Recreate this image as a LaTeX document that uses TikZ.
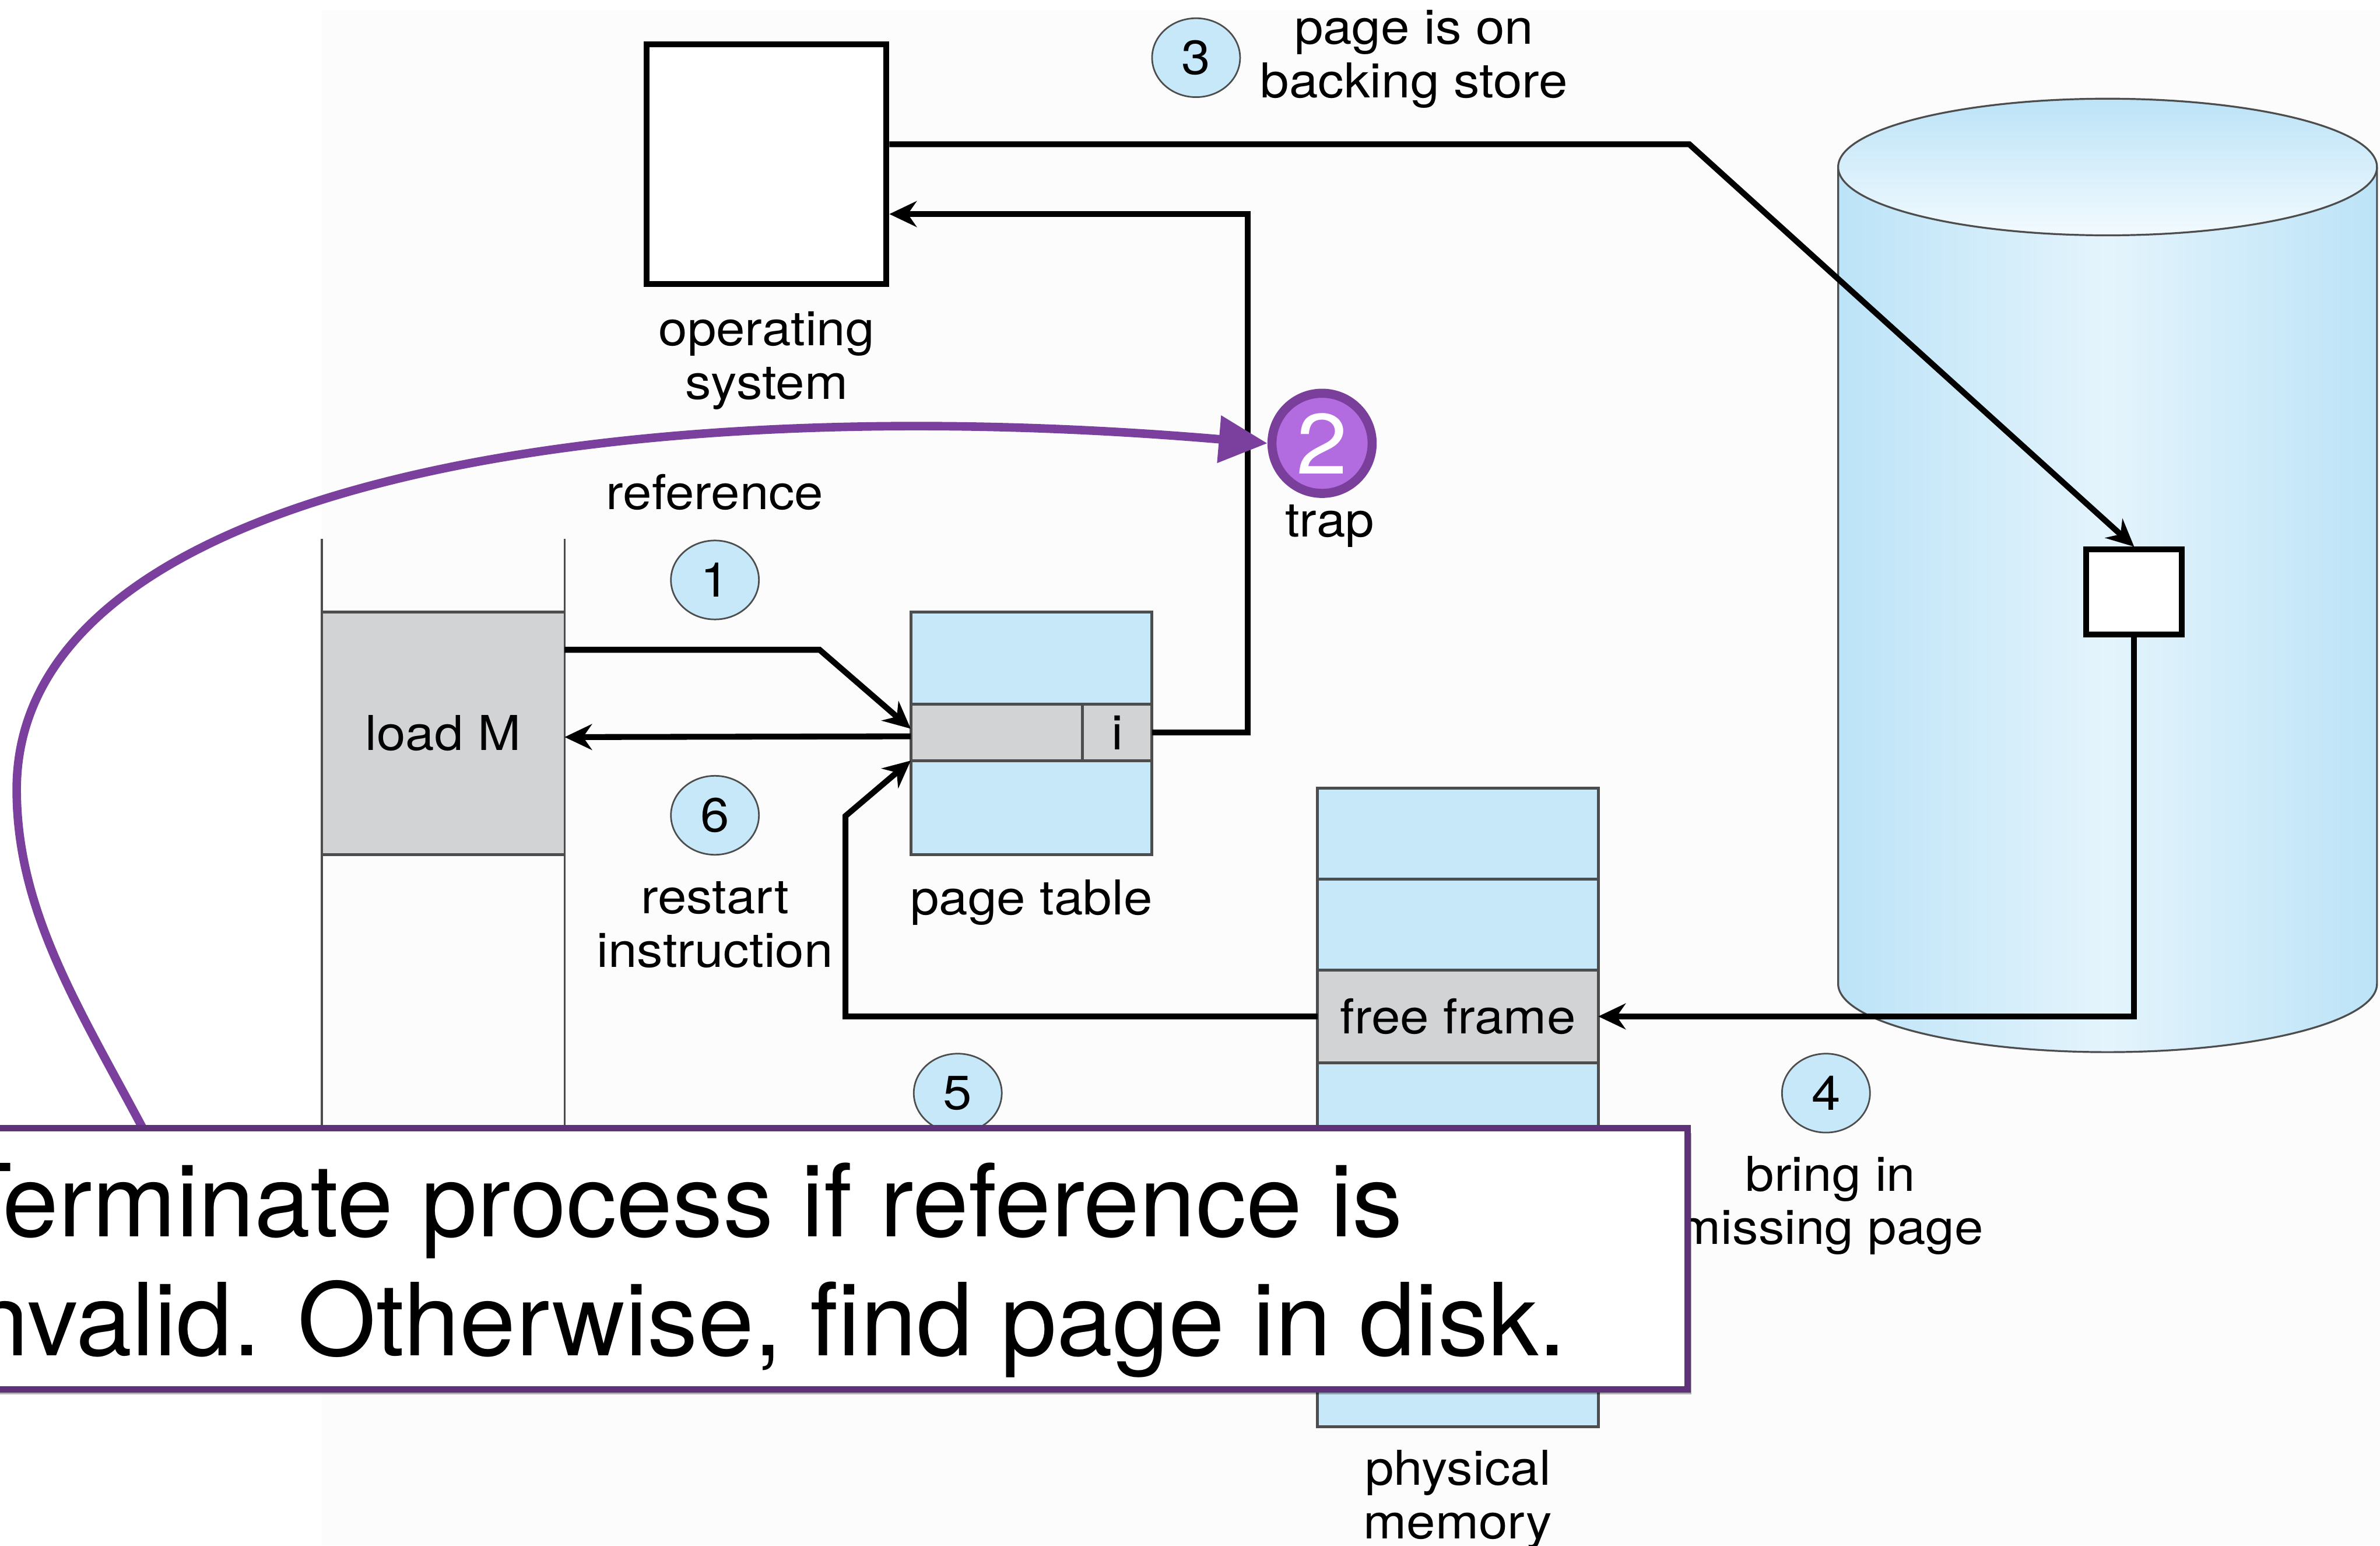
\documentclass[tikz,border=0pt]{standalone}
\usepackage{fontspec}
\setmainfont{TeX Gyre Heros}[FakeStretch=1.08]
\newfontfamily\notefont{TeX Gyre Heros}
\usetikzlibrary{shapes,arrows.meta,positioning,calc,shadows}

\definecolor{pageblue}{HTML}{C6E8F8}
\definecolor{cellgray}{HTML}{D1D3D4}
\definecolor{edgegray}{HTML}{4D4D4D}
\definecolor{figbg}{HTML}{FCFCFC}
\definecolor{diskblue}{HTML}{BCE3F7}
\definecolor{disklight}{HTML}{E4F4FC}
\definecolor{disktop}{HTML}{F2FAFE}
\definecolor{trappurple}{HTML}{B36BE0}
\definecolor{trapedge}{HTML}{7A3F9B}
\definecolor{hintpurple}{HTML}{7B3F9E}
\definecolor{boxpurple}{HTML}{5E3278}

\begin{document}
\begin{tikzpicture}[
    x=0.02cm, y=-0.02cm,
    figtext/.style={font=\fontsize{18}{20}\selectfont, align=center, inner sep=0pt},
    stepnum/.style={draw=edgegray, line width=0.6pt, fill=pageblue, ellipse, minimum width=1.16cm, minimum height=1.04cm, inner sep=0pt, font=\fontsize{18}{20}\selectfont},
    cell/.style={draw=edgegray, line width=1.1pt, inner sep=0pt, outer sep=0pt, font=\fontsize{18}{20}\selectfont},
    osframe/.style={draw=black, line width=2.2pt, fill=white, inner sep=0pt},
    arrow/.style={-{Stealth[length=3.6mm,width=3.4mm]}, line width=2.2pt},
    callline/.style={-{Triangle[length=6.4mm,width=6mm]}, line width=3.2pt, draw=hintpurple},
    notebox/.style={draw=boxpurple, line width=2.4pt, fill=white, minimum width=23.44cm, minimum height=3.44cm,
        drop shadow={shadow xshift=0.05cm, shadow yshift=-0.07cm, fill=black, opacity=0.3}}
]

% page background
\fill[white] (0,0) rectangle (1568,1018);
\fill[figbg] (212,7) rectangle (1568,1018);
\useasboundingbox (0,0) rectangle (1568,1018);

% backing store
\shade[left color=diskblue, right color=diskblue, middle color=disklight]
    (1211,110) -- (1211,648) arc[start angle=180, end angle=0, x radius=177.5, y radius=45] -- (1566,110) -- cycle;
\draw[edgegray, line width=0.7pt]
    (1211,110) -- (1211,648) arc[start angle=180, end angle=0, x radius=177.5, y radius=45] -- (1566,110);
\shade[top color=diskblue, bottom color=disktop, draw=edgegray, line width=0.7pt]
    (1388.5,110) ellipse [x radius=177.5, y radius=45];
\node[osframe, minimum width=1.26cm, minimum height=1.12cm] (slot) at (1406,390) {};

% operating system
\node[osframe, minimum width=3.16cm, minimum height=3.16cm] (os) at (505,108) {};
\node[figtext, below=0.32cm of os] (oslbl) {operating\\system};

% process
\node[cell, draw=none, fill=cellgray, minimum width=3.2cm, minimum height=3.2cm] (loadm) at (292,483) {load M};
\draw[edgegray, line width=1.1pt] (loadm.north west) -- (loadm.north east) (loadm.south west) -- (loadm.south east);
\draw[edgegray, line width=0.8pt] (loadm.north west) ++(0,-48) -- ++(0,445);
\draw[edgegray, line width=0.8pt] (loadm.north east) ++(0,-48) -- ++(0,445);

% page table
\node[cell, fill=pageblue, minimum width=3.18cm, minimum height=1.22cm] (pttop) at (679.5,433.5) {};
\node[cell, fill=cellgray, minimum width=2.26cm, minimum height=0.74cm, below right=0pt and 0pt of pttop.south west] (ptrow) {};
\node[cell, fill=cellgray, minimum width=0.92cm, minimum height=0.74cm, right=0pt of ptrow] (ibit) {i};
\node[cell, fill=pageblue, minimum width=3.18cm, minimum height=1.24cm, below right=0pt and 0pt of ptrow.south west] (ptbot) {};
\node[figtext, below=0.32cm of ptbot] (ptlbl) {page table};

% physical memory
\node[cell, fill=pageblue, minimum width=3.7cm, minimum height=1.2cm] (fr1) at (960.5,549) {};
\node[cell, fill=pageblue, minimum width=3.7cm, minimum height=1.2cm, below=0pt of fr1] (fr2) {};
\node[cell, fill=cellgray, minimum width=3.7cm, minimum height=1.22cm, below=0pt of fr2] (freeframe) {free frame};
\node[cell, fill=pageblue, minimum width=3.7cm, minimum height=4.8cm, below=0pt of freeframe] (fr4) {};
\node[figtext, below=0.3cm of fr4] (memlbl) {physical\\memory};

% steps
\node[figtext] (reflbl) at (471,324) {reference};
\node[stepnum] (s1) at (471,382) {1};
\node[stepnum] (s3) at (788,38) {3};
\node[figtext, anchor=west] (s3lbl) at (830,39) {page is on\\backing store};
\node[stepnum] (s4) at (1203,720) {4};
\node[figtext] (bringlbl) at (1206,794) {bring in\\missing page};
\node[stepnum] (s5) at (631,720) {5};
\node[stepnum] (s6) at (471,537) {6};
\node[figtext] (restartlbl) at (471,609) {restart\\instruction};

% trap
\node[circle, fill=trappurple, draw=trapedge, line width=3.4pt, minimum size=1.32cm, inner sep=0pt,
    text=white, font=\fontsize{32}{32}\selectfont] (trap) at (871,292) {2};
\node[figtext, below=0.08cm of trap, xshift=0.1cm] (traplbl) {trap};

% arrows
\draw[arrow] ([yshift=1.1cm]loadm.east) -- ++(168,0) -- ([yshift=0.05cm]ptrow.west);
\draw[arrow] ([yshift=-0.05cm]ptrow.west) -- ([yshift=-0.05cm]loadm.east);
\draw[arrow] (ibit.east) -- ++(63,0) |- ([yshift=-0.66cm]os.east);
\draw[arrow] ([yshift=0.26cm]os.east) -- ++(527,0) -- (slot.north);
\draw[arrow] (slot.south) |- (freeframe.east);
\draw[arrow] (freeframe.west) -- ++(-311,0) -- ++(0,-132) -- (ptrow.south west);

% callout
\coordinate (hintstart) at (94,743);
\draw[callline] (hintstart) .. controls (52,664) and (11,600) .. (11,520)
    .. controls (11,320) and (400,255) .. (trap.west);
\node[notebox] (note) at (526,829) {};
\node[anchor=north west, align=left, inner sep=0pt, font=\notefont\fontsize{37.8}{44.6}\selectfont] (notetext) at (-33,765.5)
    {Terminate process if reference is\\invalid. Otherwise, find page in disk.};

\end{tikzpicture}
\end{document}
